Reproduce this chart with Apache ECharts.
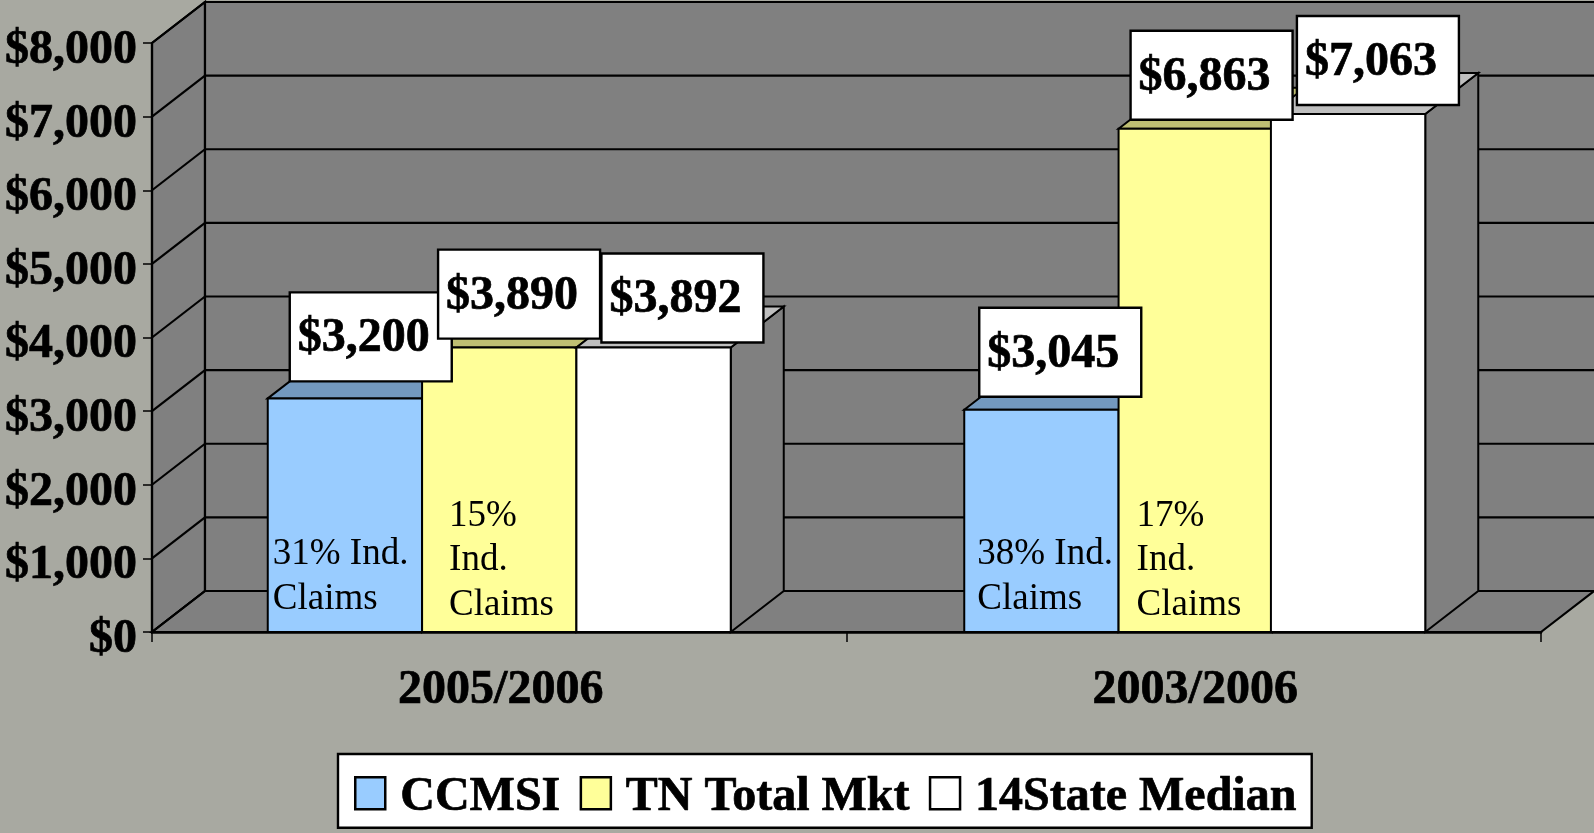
<!DOCTYPE html>
<html>
<head>
<meta charset="utf-8">
<style>html,body{margin:0;padding:0;background:#a8a9a1}#c{width:1594px;height:833px}</style>
<script src="https://cdn.jsdelivr.net/npm/echarts@6/dist/echarts.min.js"></script>
</head>
<body>
<div id="c"></div>
<script>
const categories = ['2005/2006', '2003/2006'];
const yTicks = [0, 1000, 2000, 3000, 4000, 5000, 6000, 7000, 8000];
const ccmsi = [3200, 3045];
const tnTotalMkt = [3890, 6863];
const stateMedian = [3892, 7063];
const ccmsiNotes = [['31% Ind.', 'Claims'], ['38% Ind.', 'Claims']];
const tnNotes = [['15%', 'Ind.', 'Claims'], ['17%', 'Ind.', 'Claims']];

const FONT = '"Liberation Serif","Times New Roman",serif';
const DX = 53, DY = 41, INK = '#000';
const topInset = 2;
const faces = [
  { front: '#99ccff', top: '#7399bf' },
  { front: '#ffff99', top: '#bfbf73' },
  { front: '#ffffff', top: '#bfbfbf' }
];
// layout tweaks, indexed [series][category]
const barShift = [[0, 2], [0, 2], [0, 0]];
const boxNudge = [[[22, -17], [15, -13]], [[16, -9], [12, -9]], [[25, -5], [26, -9]]];
const noteInset = [[5, 13], [27, 18]];

function money(v) { return '$' + v.toLocaleString('en-US'); }

function barGeom(api, s) {
  const i = api.value(0), base = api.coord([i, 0]), top = api.coord([i, api.value(1)]);
  const w = api.size([1, 0])[0] / 4.5;
  return { left: base[0] - 1.5 * w + s * w + barShift[s][i], w: w, y0: base[1], y1: top[1] + topInset, i: i };
}

function renderBar(s) {
  return function (params, api) {
    const g = barGeom(api, s), f = faces[s];
    const r = g.left + g.w;
    const line = { stroke: INK, lineWidth: 2, lineJoin: 'miter' };
    return {
      type: 'group',
      children: [
        { type: 'polygon', shape: { points: [[r, g.y0], [r + DX, g.y0 - DY], [r + DX, g.y1 - DY], [r, g.y1]] }, style: Object.assign({ fill: '#808080' }, line) },
        { type: 'polygon', shape: { points: [[g.left, g.y1], [g.left + DX, g.y1 - DY], [r + DX, g.y1 - DY], [r, g.y1]] }, style: Object.assign({ fill: f.top }, line) },
        { type: 'rect', shape: { x: g.left, y: g.y1, width: g.w, height: g.y0 - g.y1 }, style: Object.assign({ fill: f.front }, line) }
      ]
    };
  };
}

function renderWalls(params, api) {
  const c = params.coordSys, v = api.value(0), y = api.coord([0, v])[1];
  const xl = c.x, xr = c.x + c.width, yb = c.y + c.height, yt = c.y;
  const children = [];
  const stroke = { stroke: INK, lineWidth: 2.2 };
  if (v === 0) {
    children.push(
      { type: 'polygon', shape: { points: [[xl, yb], [xl, yt], [xl + DX, yt - DY], [xl + DX, yb - DY]] }, style: Object.assign({ fill: '#808080' }, stroke) },
      { type: 'rect', shape: { x: xl + DX, y: yt - DY, width: c.width + 10, height: c.height }, style: Object.assign({ fill: '#808080' }, stroke) },
      { type: 'polygon', shape: { points: [[xl, yb], [xl + DX, yb - DY], [xr + DX, yb - DY], [xr, yb]] }, style: Object.assign({ fill: '#808080' }, stroke) }
    );
  }
  children.push(
    { type: 'line', shape: { x1: xl, y1: y, x2: xl + DX, y2: y - DY }, style: stroke },
    { type: 'line', shape: { x1: xl + DX, y1: y - DY, x2: xr + DX, y2: y - DY }, style: stroke }
  );
  return { type: 'group', children: children };
}

function renderNotes(s, notes) {
  return function (params, api) {
    const g = barGeom(api, s), lines = notes[g.i];
    return {
      type: 'group',
      children: lines.map(function (t, k) {
        return {
          type: 'text',
          style: {
            text: t, x: g.left + noteInset[s][g.i],
            y: g.y0 - 33 - (lines.length - 1 - k) * 44.3 + (s === 1 ? 6 : 0),
            font: '37px ' + FONT, fill: INK, textAlign: 'left', textVerticalAlign: 'middle'
          }
        };
      })
    };
  };
}

function renderBox(s) {
  return function (params, api) {
    const g = barGeom(api, s), n = boxNudge[s][g.i];
    const x = g.left + n[0], b = g.y1 + n[1], h = 89, w = 162;
    return {
      type: 'group',
      children: [
        { type: 'rect', shape: { x: x, y: b - h, width: w, height: h }, style: { fill: '#fff', stroke: INK, lineWidth: 2.4 } },
        { type: 'text', style: { text: money(api.value(1)), x: x + 8, y: b - h / 2 + 2, font: 'bold 48px ' + FONT, fill: INK, stroke: INK, lineWidth: 0.7, textAlign: 'left', textVerticalAlign: 'middle' } }
      ]
    };
  };
}

const seriesValues = [ccmsi, tnTotalMkt, stateMedian];
const seriesNames = ['CCMSI', 'TN Total Mkt', '14State Median'];
const pts = function (vals) { return categories.map(function (c, i) { return [i, vals[i]]; }); };

const series = [{
  type: 'custom', name: 'walls', z: 1, silent: true, clip: false,
  data: yTicks.map(function (v) { return [v]; }), encode: { y: 0 },
  renderItem: renderWalls
}];
seriesValues.forEach(function (vals, s) {
  series.push({
    type: 'custom', name: seriesNames[s], z: 3 + s, clip: false,
    data: pts(vals), encode: { x: 0, y: 1 },
    itemStyle: { color: faces[s].front },
    renderItem: renderBar(s)
  });
});
series.push({ type: 'custom', name: 'notesA', z: 7, data: pts(ccmsi), encode: { x: 0, y: 1 }, renderItem: renderNotes(0, ccmsiNotes) });
series.push({ type: 'custom', name: 'notesB', z: 7, data: pts(tnTotalMkt), encode: { x: 0, y: 1 }, renderItem: renderNotes(1, tnNotes) });
seriesValues.forEach(function (vals, s) {
  series.push({ type: 'custom', name: 'box' + s, z: 8, clip: false, data: pts(vals), encode: { x: 0, y: 1 }, renderItem: renderBox(s) });
});

const heavy = { color: INK, fontFamily: FONT, fontWeight: 'bold', fontSize: 48, textBorderColor: INK, textBorderWidth: 0.7 };
const chart = echarts.init(document.getElementById('c'), null, { renderer: 'canvas' });
chart.setOption({
  animation: false,
  backgroundColor: '#a8a9a1',
  grid: { left: 152, right: 53, top: 43, bottom: 201 },
  xAxis: {
    type: 'category', data: categories, z: 10,
    axisLine: { lineStyle: { color: INK, width: 2.5 } },
    axisTick: { show: true, length: 10, alignWithLabel: false, lineStyle: { color: INK, width: 1.5 } },
    axisLabel: Object.assign({ margin: 35, padding: [0, 0, 0, 3] }, heavy),
    splitLine: { show: false }
  },
  yAxis: {
    type: 'value', min: 0, max: 8000, interval: 1000, z: 10,
    axisLine: { show: true, lineStyle: { color: INK, width: 2.2 } },
    axisTick: { show: true, length: 9, lineStyle: { color: INK, width: 1.5 } },
    axisLabel: {
      margin: 15,
      formatter: function (v) { return '{a|' + money(v) + '}'; },
      rich: { a: Object.assign({ padding: [15, 0, 0, 0] }, heavy) }
    },
    splitLine: { show: false }
  },
  legend: {
    left: 338, top: 754, orient: 'horizontal', selectedMode: false,
    data: seriesNames.map(function (n, s) { return { name: n, icon: 'rect', itemStyle: { color: faces[s].front, borderColor: INK, borderWidth: 2.5 } }; }),
    itemWidth: 30, itemHeight: 32, itemGap: 19,
    backgroundColor: '#fff', borderColor: INK, borderWidth: 2.4,
    padding: [19, 15, 6, 16],
    formatter: function (n) { return '{a|' + n + '}'; },
    textStyle: { rich: { a: Object.assign({ padding: [8, 0, 0, 10] }, heavy) } }
  },
  series: series
});
</script>
</body>
</html>
